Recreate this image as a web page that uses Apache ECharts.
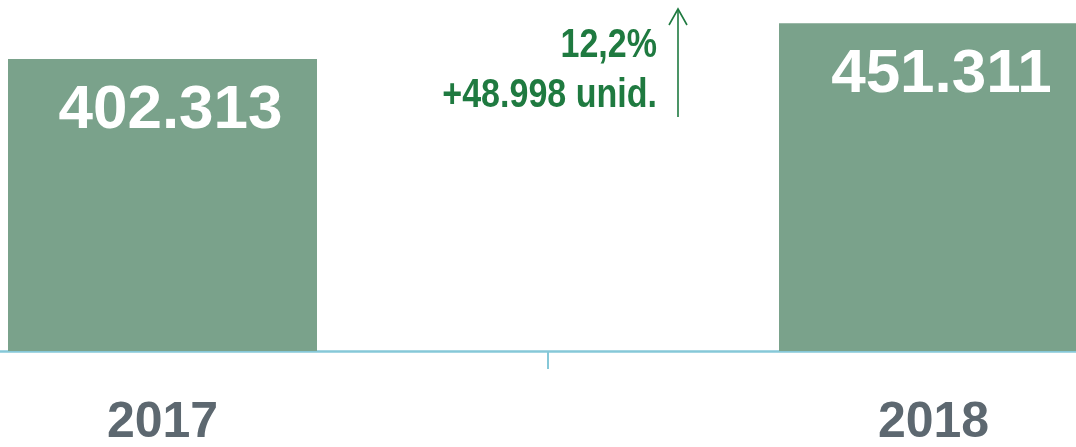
<!DOCTYPE html>
<html>
<head>
<meta charset="utf-8">
<script src="https://cdn.jsdelivr.net/npm/echarts@6/dist/echarts.min.js"></script>
<style>
  html, body { margin: 0; padding: 0; background: #fff; }
  #container { width: 1076px; height: 447px; }
</style>
</head>
<body>
<div id="container"></div>
<script>
var years = ['2017', '2018'];
var units = [402313, 451311];

var sans = '"Liberation Sans", Arial, sans-serif';
var green = '#1f7a40';

function fmt(n) {
    return String(n).replace(/\B(?=(\d{3})+(?!\d))/g, '.');
}

var diff = units[1] - units[0];
var pct = (diff / units[0] * 100).toFixed(1).replace('.', ',') + '%';

var myChart = echarts.init(document.getElementById('container'));
myChart.setOption({
    animation: false,
    grid: {
        left: -223,
        right: -243,
        top: -12,
        bottom: 96,
        outerBoundsMode: 'none'
    },
    xAxis: {
        type: 'category',
        data: years,
        axisLine: {
            lineStyle: { color: '#86c8d8', width: 2.5 }
        },
        axisTick: {
            show: true,
            interval: 0,
            length: 18,
            lineStyle: { color: '#86c8d8', width: 2 }
        },
        axisLabel: {
            margin: 47,
            fontFamily: sans,
            fontWeight: 'bold',
            fontSize: 50,
            color: '#5d6870'
        }
    },
    yAxis: {
        type: 'value',
        min: 0,
        max: 500000,
        show: false,
        splitLine: { show: false }
    },
    series: [{
        type: 'bar',
        data: units,
        barWidth: 309,
        itemStyle: { color: '#7aa28b' },
        label: {
            show: true,
            position: 'insideTop',
            distance: 21,
            offset: [8, 0],
            color: '#fff',
            fontFamily: sans,
            fontWeight: 'bold',
            fontSize: 62,
            formatter: function (p) { return fmt(p.value); }
        }
    }],
    graphic: [{
        type: 'text',
        x: 657,
        y: 21,
        scaleX: 0.83,
        style: {
            text: pct + '\n+' + fmt(diff) + ' unid.',
            fill: green,
            font: 'bold 41px ' + sans,
            align: 'right',
            verticalAlign: 'top',
            lineHeight: 50
        }
    }, {
        type: 'polyline',
        shape: { points: [[678, 117], [678, 9]] },
        style: { stroke: green, lineWidth: 1.6, fill: null }
    }, {
        type: 'polyline',
        shape: { points: [[669, 25], [678, 9], [687, 25]] },
        style: { stroke: green, lineWidth: 1.6, fill: null }
    }]
});
</script>
</body>
</html>
